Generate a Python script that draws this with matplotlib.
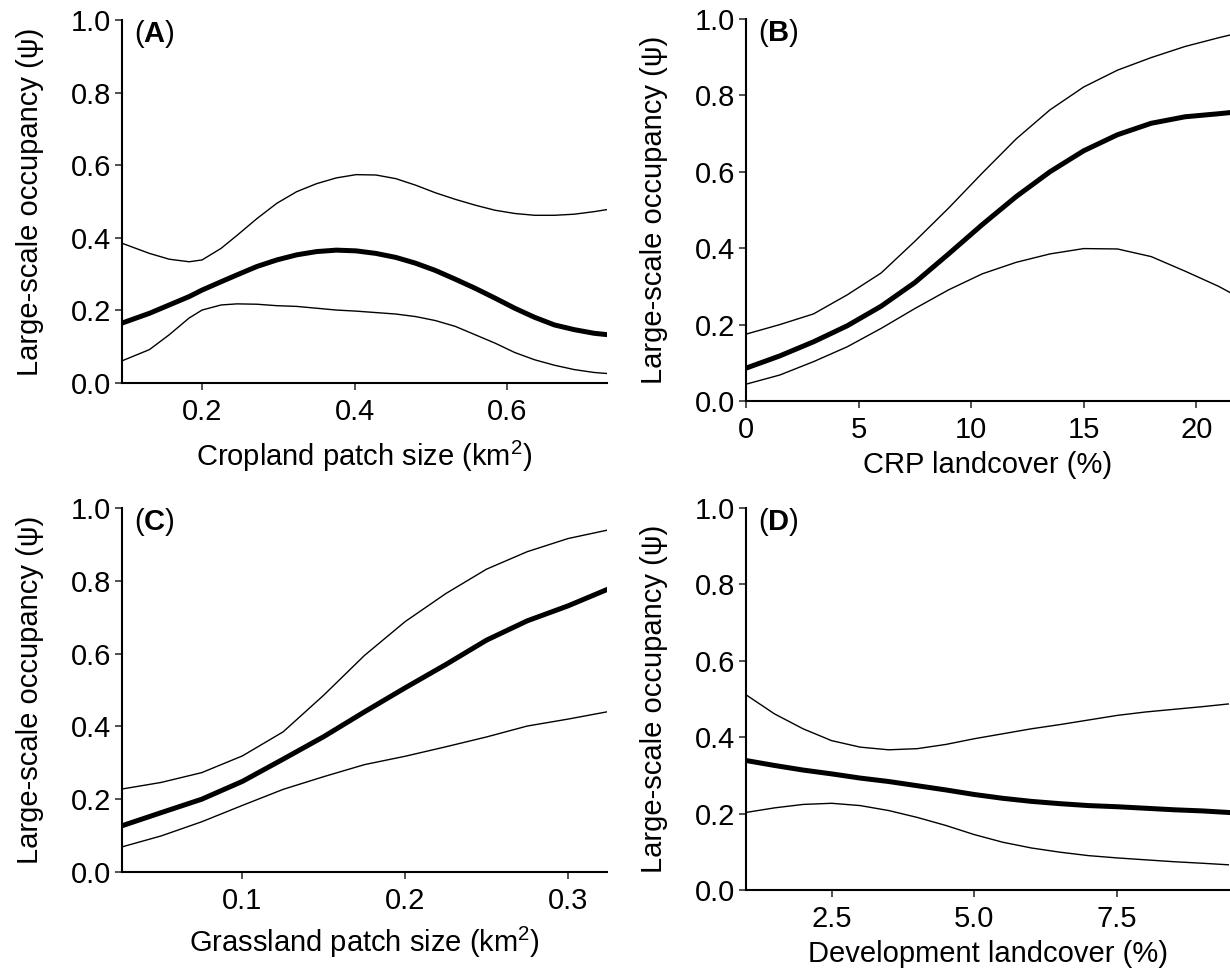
import numpy as np
import matplotlib
matplotlib.use('Agg')
import matplotlib.pyplot as plt

plt.rcParams['font.family'] = ['Liberation Sans', 'DejaVu Sans']
plt.rcParams['mathtext.fontset'] = 'custom'
plt.rcParams['mathtext.rm'] = 'Liberation Sans'
plt.rcParams['mathtext.it'] = 'Liberation Sans:italic'
plt.rcParams['mathtext.bf'] = 'Liberation Sans:bold'

# Panel A - cropland patch size (km2)
crop_x = [0.095, 0.131, 0.157, 0.183, 0.200, 0.225, 0.246, 0.272, 0.298, 0.324, 0.350, 0.376, 0.402,
          0.428, 0.454, 0.480, 0.506, 0.532, 0.558, 0.584, 0.610, 0.636, 0.662, 0.688, 0.714, 0.732]
crop_mean = [0.165, 0.192, 0.215, 0.238, 0.256, 0.279, 0.298, 0.321, 0.339, 0.353, 0.362, 0.366, 0.364,
             0.357, 0.346, 0.330, 0.310, 0.286, 0.261, 0.234, 0.206, 0.181, 0.160, 0.147, 0.137, 0.133]
crop_upper = [0.385, 0.357, 0.341, 0.334, 0.339, 0.371, 0.407, 0.453, 0.495, 0.527, 0.549, 0.565, 0.574,
              0.573, 0.563, 0.545, 0.524, 0.506, 0.490, 0.476, 0.467, 0.462, 0.462, 0.465, 0.472, 0.478]
crop_lower = [0.061, 0.092, 0.133, 0.179, 0.201, 0.215, 0.218, 0.217, 0.213, 0.211, 0.206, 0.201, 0.198,
              0.194, 0.190, 0.183, 0.172, 0.156, 0.133, 0.110, 0.084, 0.064, 0.049, 0.037, 0.029, 0.026]

# Panel B - CRP landcover (%)
crp_x = [0, 1.5, 3, 4.5, 6, 7.5, 9, 10.5, 12, 13.5, 15, 16.5, 18, 19.5, 21, 21.5]
crp_mean = [0.086, 0.118, 0.155, 0.197, 0.248, 0.310, 0.385, 0.462, 0.535, 0.600, 0.655, 0.697,
            0.727, 0.744, 0.752, 0.755]
crp_upper = [0.175, 0.200, 0.228, 0.278, 0.335, 0.418, 0.505, 0.597, 0.686, 0.762, 0.822, 0.866,
             0.899, 0.928, 0.951, 0.958]
crp_lower = [0.044, 0.068, 0.103, 0.142, 0.190, 0.242, 0.291, 0.333, 0.363, 0.385, 0.399, 0.398,
             0.378, 0.340, 0.300, 0.284]

# Panel C - grassland patch size (km2)
grass_x = [0.026, 0.05, 0.075, 0.1, 0.125, 0.15, 0.175, 0.2, 0.225, 0.25, 0.275, 0.3, 0.324]
grass_mean = [0.127, 0.163, 0.200, 0.249, 0.310, 0.372, 0.440, 0.506, 0.570, 0.637, 0.690, 0.731, 0.776]
grass_upper = [0.228, 0.246, 0.273, 0.319, 0.385, 0.486, 0.595, 0.688, 0.765, 0.832, 0.880, 0.916, 0.939]
grass_lower = [0.069, 0.099, 0.138, 0.183, 0.227, 0.262, 0.295, 0.318, 0.344, 0.371, 0.401, 0.420, 0.440]

# Panel D - development landcover (%)
dev_x = [1.0, 1.5, 2.0, 2.5, 3.0, 3.5, 4.0, 4.5, 5.0, 5.5, 6.0, 6.5, 7.0, 7.5, 8.0, 8.5, 9.0, 9.45]
dev_mean = [0.339, 0.326, 0.314, 0.304, 0.293, 0.284, 0.273, 0.262, 0.250, 0.240, 0.232, 0.226,
            0.221, 0.218, 0.214, 0.210, 0.207, 0.203]
dev_upper = [0.511, 0.461, 0.422, 0.391, 0.374, 0.367, 0.370, 0.381, 0.396, 0.409, 0.422, 0.433,
             0.445, 0.457, 0.466, 0.473, 0.480, 0.487]
dev_lower = [0.203, 0.215, 0.224, 0.227, 0.221, 0.208, 0.190, 0.169, 0.145, 0.125, 0.110, 0.099,
             0.090, 0.084, 0.079, 0.074, 0.070, 0.066]

y_ticks = [0.0, 0.2, 0.4, 0.6, 0.8, 1.0]
y_label = 'Large-scale occupancy (ψ)'

W, H = 1230, 968
FS = 21


def make_panel(fig, box, letter, x, mean, upper, lower, xlim, xticks, xticklabels, xlabel, xpad):
  left, top, right, bottom = box  # pixel box of the plotting area
  ax = fig.add_axes([left / W, 1 - bottom / H, (right - left) / W, (bottom - top) / H])
  ax.plot(x, upper, color='black', lw=1.0)
  ax.plot(x, lower, color='black', lw=1.0)
  ax.plot(x, mean, color='black', lw=3.6)
  ax.set_xlim(xlim)
  ax.set_ylim(0, 1)
  ax.set_xticks(xticks)
  ax.set_xticklabels(xticklabels)
  ax.set_yticks(y_ticks)
  ax.set_yticklabels([f'{v:.1f}' for v in y_ticks])
  for s in ['top', 'right']:
    ax.spines[s].set_visible(False)
  for s in ['left', 'bottom']:
    ax.spines[s].set_linewidth(1.5)
    ax.spines[s].set_color('black')
  ax.tick_params(axis='both', direction='out', length=5, width=1.2, color='#333333',
                 labelsize=FS, labelcolor='black')
  ax.tick_params(axis='y', pad=3.0)
  ax.tick_params(axis='x', pad=6)
  ax.set_xlabel(xlabel, fontsize=FS, labelpad=xpad)
  ax.set_ylabel(y_label, fontsize=FS)
  # y label sits 78 px left of the axis line in every panel
  ax.yaxis.set_label_coords(-78 / (right - left), 0.5)
  ax.text(12 / (right - left), 1.005, '($\\mathbf{' + letter + '}$)', transform=ax.transAxes,
          fontsize=FS, ha='left', va='top')
  return ax


fig = plt.figure(figsize=(W / 100, H / 100), dpi=100)

make_panel(fig, (122, 20, 607, 383), 'A', crop_x, crop_mean, crop_upper, crop_lower,
           (0.095, 0.731), [0.2, 0.4, 0.6], ['0.2', '0.4', '0.6'], 'Cropland patch size (km$^2$)', 9)
make_panel(fig, (746, 19, 1230, 401), 'B', crp_x, crp_mean, crp_upper, crp_lower,
           (0, 21.5), [0, 5, 10, 15, 20], ['0', '5', '10', '15', '20'], 'CRP landcover (%)', 5)
make_panel(fig, (122, 508, 607, 872), 'C', grass_x, grass_mean, grass_upper, grass_lower,
           (0.026, 0.324), [0.1, 0.2, 0.3], ['0.1', '0.2', '0.3'], 'Grassland patch size (km$^2$)', 7)
make_panel(fig, (746, 508, 1230, 890), 'D', dev_x, dev_mean, dev_upper, dev_lower,
           (1.0, 9.48), [2.5, 5.0, 7.5], ['2.5', '5.0', '7.5'], 'Development landcover (%)', 5)

fig.savefig('out.png', dpi=100)
